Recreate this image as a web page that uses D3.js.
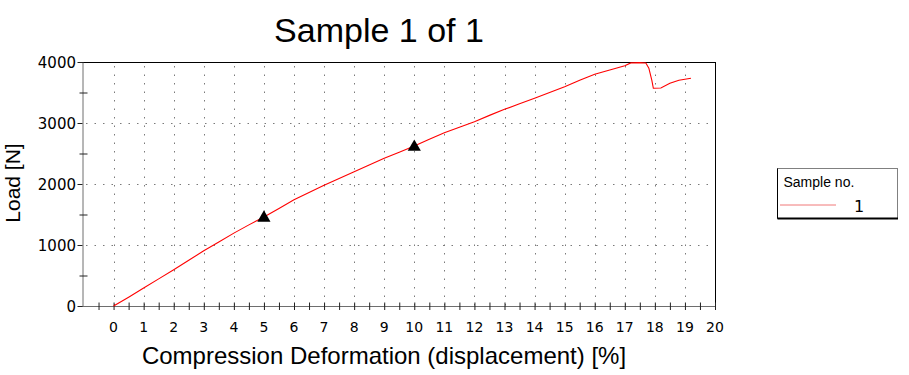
<!DOCTYPE html>
<html>
<head>
<meta charset="utf-8">
<script src="https://cdn.jsdelivr.net/npm/d3@7"></script>
<style>
  body { margin: 0; background: #fff; }
  svg { display: block; }
</style>
</head>
<body>
<svg width="909" height="375"></svg>
<script>
// strain [%] and load [N]
const strain = [0, 0.5, 1, 1.5, 2, 2.5, 3, 3.5, 4, 4.5, 5, 5.5, 6, 6.5, 7, 7.5, 8, 8.5, 9, 9.5,
  10, 10.5, 11, 11.5, 12, 12.5, 13, 13.5, 14, 14.5, 15, 15.5, 16, 16.5, 17, 17.2, 17.5, 17.7,
  17.8, 17.9, 17.95, 18.2, 18.5, 18.8, 19.0, 19.2];
const load = [0, 145, 295, 445, 595, 750, 905, 1050, 1195, 1330, 1460, 1600, 1740, 1862, 1980, 2092,
  2200, 2310, 2421, 2520, 2623, 2735, 2841, 2930, 3021, 3125, 3224, 3315, 3405, 3500, 3595, 3700,
  3798, 3870, 3939, 3985, 3990, 3985, 3900, 3700, 3570, 3575, 3650, 3700, 3716, 3733];

// triangle markers
const markerStrain = [5, 10];
const markerLoad = [1460, 2623];

const xTickLabels = d3.range(0, 21);
const yTickLabels = [0, 1000, 2000, 3000, 4000];
const xMinorTicks = d3.range(-0.5, 20.01, 0.5);
const yMinorTicks = d3.range(0, 4001, 500);

const sampleNames = ["1"];

const svg = d3.select("svg");

const plotLeft = 82, plotRight = 715, plotTop = 62, plotBottom = 306;

const x = d3.scaleLinear().domain([-1.05, 20]).range([plotLeft, plotRight]);
const y = d3.scaleLinear().domain([0, 4000]).range([plotBottom, plotTop]);

// Title
svg.append("text")
  .attr("x", 379)
  .attr("y", 42)
  .attr("text-anchor", "middle")
  .attr("font-family", "Arial, 'Liberation Sans', sans-serif")
  .attr("font-size", "34px")
  .text("Sample 1 of 1");

// grid
const grid = svg.append("g")
  .attr("stroke", "#7a7a7a")
  .attr("stroke-width", 1)
  .attr("stroke-dasharray", "1.5,7");

grid.selectAll("line.v")
  .data(d3.range(0, 20))
  .enter().append("line")
  .attr("class", "v")
  .attr("x1", d => Math.round(x(d)) + 0.5)
  .attr("x2", d => Math.round(x(d)) + 0.5)
  .attr("y1", plotTop + 4)
  .attr("y2", plotBottom);

grid.selectAll("line.h")
  .data([1000, 2000, 3000])
  .enter().append("line")
  .attr("class", "h")
  .attr("y1", d => Math.round(y(d)) + 0.5)
  .attr("y2", d => Math.round(y(d)) + 0.5)
  .attr("x1", plotLeft + 4)
  .attr("x2", plotRight);

// frame
svg.append("line")
  .attr("x1", plotLeft).attr("x2", plotRight + 0.5)
  .attr("y1", plotTop + 0.5).attr("y2", plotTop + 0.5)
  .attr("stroke", "#000");
svg.append("line")
  .attr("x1", plotRight + 0.5).attr("x2", plotRight + 0.5)
  .attr("y1", plotTop).attr("y2", plotBottom)
  .attr("stroke", "#000");

// X axis
const xAxis = svg.append("g")
  .attr("transform", `translate(0, ${plotBottom + 0.5})`)
  .call(d3.axisBottom(x).tickValues(xMinorTicks).tickSize(3.5).tickSizeOuter(0).tickFormat(""));
xAxis.select(".domain").attr("stroke", "#6e6e6e").attr("d", `M${plotLeft},0H${plotRight + 1}`);
xAxis.selectAll(".tick line")
  .attr("y1", -4)
  .attr("stroke", "#222");

svg.append("g")
  .selectAll("text")
  .data(xTickLabels)
  .enter().append("text")
  .attr("x", d => x(d))
  .attr("y", 331.5)
  .attr("text-anchor", "middle")
  .attr("font-family", "'DejaVu Sans', Verdana, sans-serif")
  .attr("font-size", "14px")
  .text(d => d);

// Y axis
const yAxis = svg.append("g")
  .attr("transform", `translate(${plotLeft + 0.5}, 0)`)
  .call(d3.axisLeft(y).tickValues(yMinorTicks).tickSize(4).tickSizeOuter(0).tickFormat(""));
yAxis.select(".domain").attr("stroke", "#6e6e6e");
yAxis.selectAll(".tick line")
  .attr("x2", d => d % 1000 === 0 ? -5 : -3)
  .attr("x1", d => d % 1000 === 0 ? 0 : 5)
  .attr("stroke", "#222");

svg.append("g")
  .selectAll("text")
  .data(yTickLabels)
  .enter().append("text")
  .attr("x", 76)
  .attr("y", d => y(d) + 6)
  .attr("text-anchor", "end")
  .attr("font-family", "'DejaVu Sans', Verdana, sans-serif")
  .attr("font-size", "15px")
  .text(d => d);

// axis titles
svg.append("text")
  .attr("x", 384)
  .attr("y", 364)
  .attr("text-anchor", "middle")
  .attr("font-family", "Arial, 'Liberation Sans', sans-serif")
  .attr("font-size", "24px")
  .text("Compression Deformation (displacement) [%]");

svg.append("text")
  .attr("transform", "translate(20, 183) rotate(-90)")
  .attr("text-anchor", "middle")
  .attr("font-family", "Arial, 'Liberation Sans', sans-serif")
  .attr("font-size", "21px")
  .text("Load [N]");

// curve
const points = strain.map((s, i) => [s, load[i]]);
const line = d3.line()
  .x(d => x(d[0]))
  .y(d => y(d[1]));

svg.append("path")
  .datum(points)
  .attr("d", line)
  .attr("fill", "none")
  .attr("stroke", "#ff0000")
  .attr("stroke-width", 1.1);

// markers
const tri = d3.symbol().type(d3.symbolTriangle).size(75);
svg.append("g")
  .selectAll("path")
  .data(markerStrain.map((s, i) => [s, markerLoad[i]]))
  .enter().append("path")
  .attr("d", tri)
  .attr("transform", d => `translate(${x(d[0])}, ${y(d[1]) + 1})`)
  .attr("fill", "#000");

// legend
const legend = svg.append("g").attr("transform", "translate(777.5, 168.5)");
legend.append("rect")
  .attr("width", 120)
  .attr("height", 50)
  .attr("fill", "#fff")
  .attr("stroke", "#808080");
legend.append("line")
  .attr("x1", 0).attr("x2", 0).attr("y1", 0).attr("y2", 50)
  .attr("stroke", "#000");
legend.append("line")
  .attr("x1", 0).attr("x2", 120.5).attr("y1", 50).attr("y2", 50)
  .attr("stroke", "#000").attr("stroke-width", 2);
legend.append("text")
  .attr("x", 6)
  .attr("y", 18)
  .attr("font-family", "Arial, 'Liberation Sans', sans-serif")
  .attr("font-size", "14px")
  .text("Sample no.");

sampleNames.forEach((name, i) => {
  legend.append("line")
    .attr("x1", 2.5).attr("x2", 58.5)
    .attr("y1", 36.5 + i * 18).attr("y2", 36.5 + i * 18)
    .attr("stroke", "#f07878");
  legend.append("text")
    .attr("x", 81.5)
    .attr("y", 43 + i * 18)
    .attr("text-anchor", "middle")
    .attr("font-family", "'DejaVu Sans', Verdana, sans-serif")
    .attr("font-size", "16px")
    .text(name);
});
</script>
</body>
</html>
